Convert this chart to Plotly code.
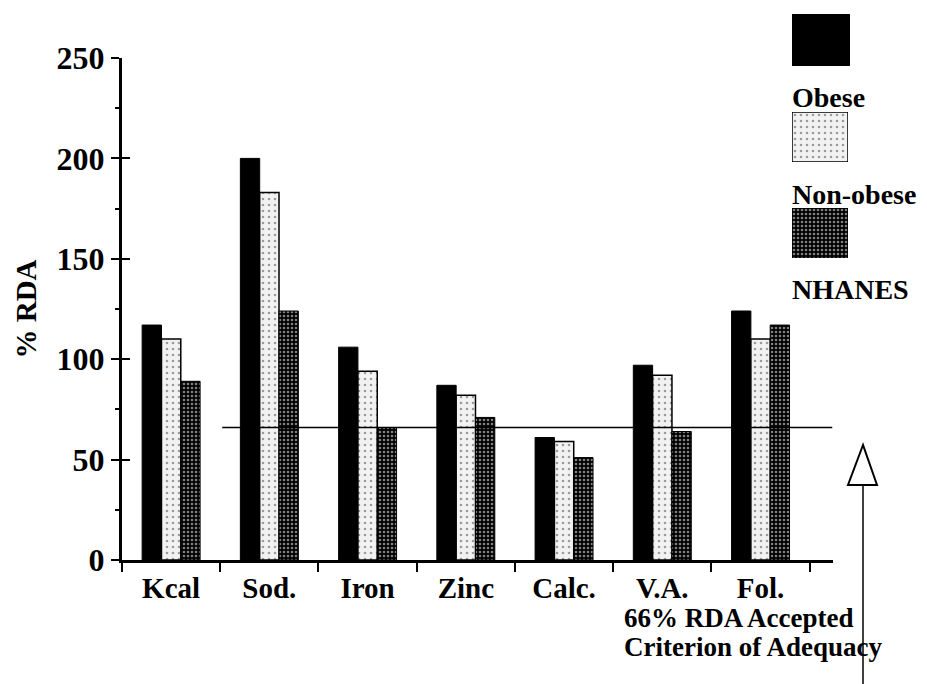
import plotly.graph_objects as go

# data (% of RDA)
nutrients = ['Kcal', 'Sod.', 'Iron', 'Zinc', 'Calc.', 'V.A.', 'Fol.']
obese = [117, 200, 106, 87, 61, 97, 124]
non_obese = [110, 183, 94, 82, 59, 92, 110]
nhanes = [89, 124, 66, 71, 51, 64, 117]
criterion = 66

group_names = ['Obese', 'Non-obese', 'NHANES']

W, H = 927, 684
PAGE_OFF = 8  # the page body margin shifts the figure a little
ML, MR, MT, MB = 114, 5, 2, 132
PW, PH = W - ML - MR, H - MT - MB


# helpers: screen pixel position -> paper fraction
def px_x(x):
    return (x - PAGE_OFF - ML) / PW


def px_y(y):
    return (H - MB - (y - PAGE_OFF)) / PH


font_family = 'Liberation Serif'
bold = dict(family=font_family, color='black', weight='bold')

# bar styles
styles = {
    'Obese': dict(color='black', line=dict(color='black', width=1)),
    'Non-obese': dict(color='#f2f2f2', line=dict(color='black', width=1.5),
                      pattern=dict(shape='.', fgcolor='#444', size=6, solidity=0.15)),
    'NHANES': dict(color='black', line=dict(color='black', width=1),
                   pattern=dict(shape='.', fgcolor='white', size=4, solidity=0.35)),
}

fig = go.Figure()

for name, vals in zip(group_names, [obese, non_obese, nhanes]):
    fig.add_trace(go.Bar(x=nutrients, y=vals, name=name, marker=styles[name],
                         showlegend=False))

# empty trace on an overlay axis, only there for the inner half of the y ticks
fig.add_trace(go.Scatter(x=[], y=[], yaxis='y5', showlegend=False, hoverinfo='skip'))

# legend swatches, each drawn in its own tiny axis so the patterns show
swatches = [(792, 850, 14, 66), (792, 848, 112, 162), (792, 848, 208, 258)]
for i, (name, (x0, x1, y0, y1)) in enumerate(zip(group_names, swatches)):
    n = i + 2
    fig.add_trace(go.Bar(x=[0], y=[1], width=1, marker=styles[name], showlegend=False,
                         xaxis='x%d' % n, yaxis='y%d' % n, hoverinfo='skip'))
    fig.update_layout({
        'xaxis%d' % n: dict(domain=[px_x(x0), px_x(x1)], range=[-0.5, 0.5], visible=False,
                            anchor='y%d' % n, fixedrange=True, automargin=False),
        'yaxis%d' % n: dict(domain=[px_y(y1), px_y(y0)], range=[0, 1], visible=False,
                            anchor='x%d' % n, fixedrange=True, automargin=False),
    })

# legend labels
for name, yc in zip(group_names, [97, 195, 289]):
    fig.add_annotation(x=px_x(790), y=px_y(yc), xref='paper', yref='paper', text=name,
                       showarrow=False, xanchor='left', yanchor='middle',
                       font=dict(bold, size=28))

# 66% criterion line, from Sod. onward past the last group
fig.add_shape(type='line', xref='x', yref='y', x0=0.52, x1=6.73, y0=criterion, y1=criterion,
              line=dict(color='black', width=1.5))

# hollow arrow pointing up at the line
tx, ty, by = 863, 445, 485
fig.add_shape(type='path', xref='paper', yref='paper',
              path='M %f %f L %f %f L %f %f Z' % (px_x(tx), px_y(ty), px_x(848), px_y(by),
                                                  px_x(877), px_y(by)),
              line=dict(color='black', width=2), fillcolor='white')
fig.add_shape(type='line', xref='paper', yref='paper', x0=px_x(tx), x1=px_x(tx),
              y0=px_y(by), y1=px_y(H + PAGE_OFF), line=dict(color='black', width=1.5))

fig.add_annotation(x=px_x(622), y=px_y(618), xref='paper', yref='paper',
                   text='66% RDA Accepted', showarrow=False, xanchor='left', yanchor='middle',
                   font=dict(bold, size=27))
fig.add_annotation(x=px_x(622), y=px_y(647), xref='paper', yref='paper',
                   text='Criterion of Adequacy', showarrow=False, xanchor='left',
                   yanchor='middle', font=dict(bold, size=27))

fig.update_layout(
    width=W, height=H,
    margin=dict(l=ML, r=MR, t=MT, b=MB),
    paper_bgcolor='white', plot_bgcolor='white',
    barmode='group', bargap=0.41, bargroupgap=0,
    font=dict(family=font_family, color='black'),
    xaxis=dict(domain=[0, px_x(833)], showline=True, linecolor='black', linewidth=3,
               ticks='outside', tickson='boundaries', ticklen=9, tickwidth=2,
               tickcolor='black', showgrid=False, tickfont=dict(bold, size=29),
               automargin=False),
    yaxis=dict(domain=[0, px_y(58)], range=[0, 250], dtick=50, showline=True,
               linecolor='black', linewidth=3, ticks='outside', ticklen=8, tickwidth=2,
               tickcolor='black', showgrid=False, zeroline=False,
               minor=dict(ticks='outside', dtick=25, ticklen=4, tickwidth=1.5,
                          tickcolor='black'),
               tickfont=dict(bold, size=32), automargin=False,
               title=dict(text='% RDA', font=dict(bold, size=29), standoff=12)),
    yaxis5=dict(overlaying='y', side='left', range=[0, 250], dtick=50, ticks='inside',
                ticklen=8, tickwidth=2, tickcolor='black', showticklabels=False,
                showline=False, showgrid=False, zeroline=False, automargin=False,
                fixedrange=True),
)

fig.write_html('out.html')
